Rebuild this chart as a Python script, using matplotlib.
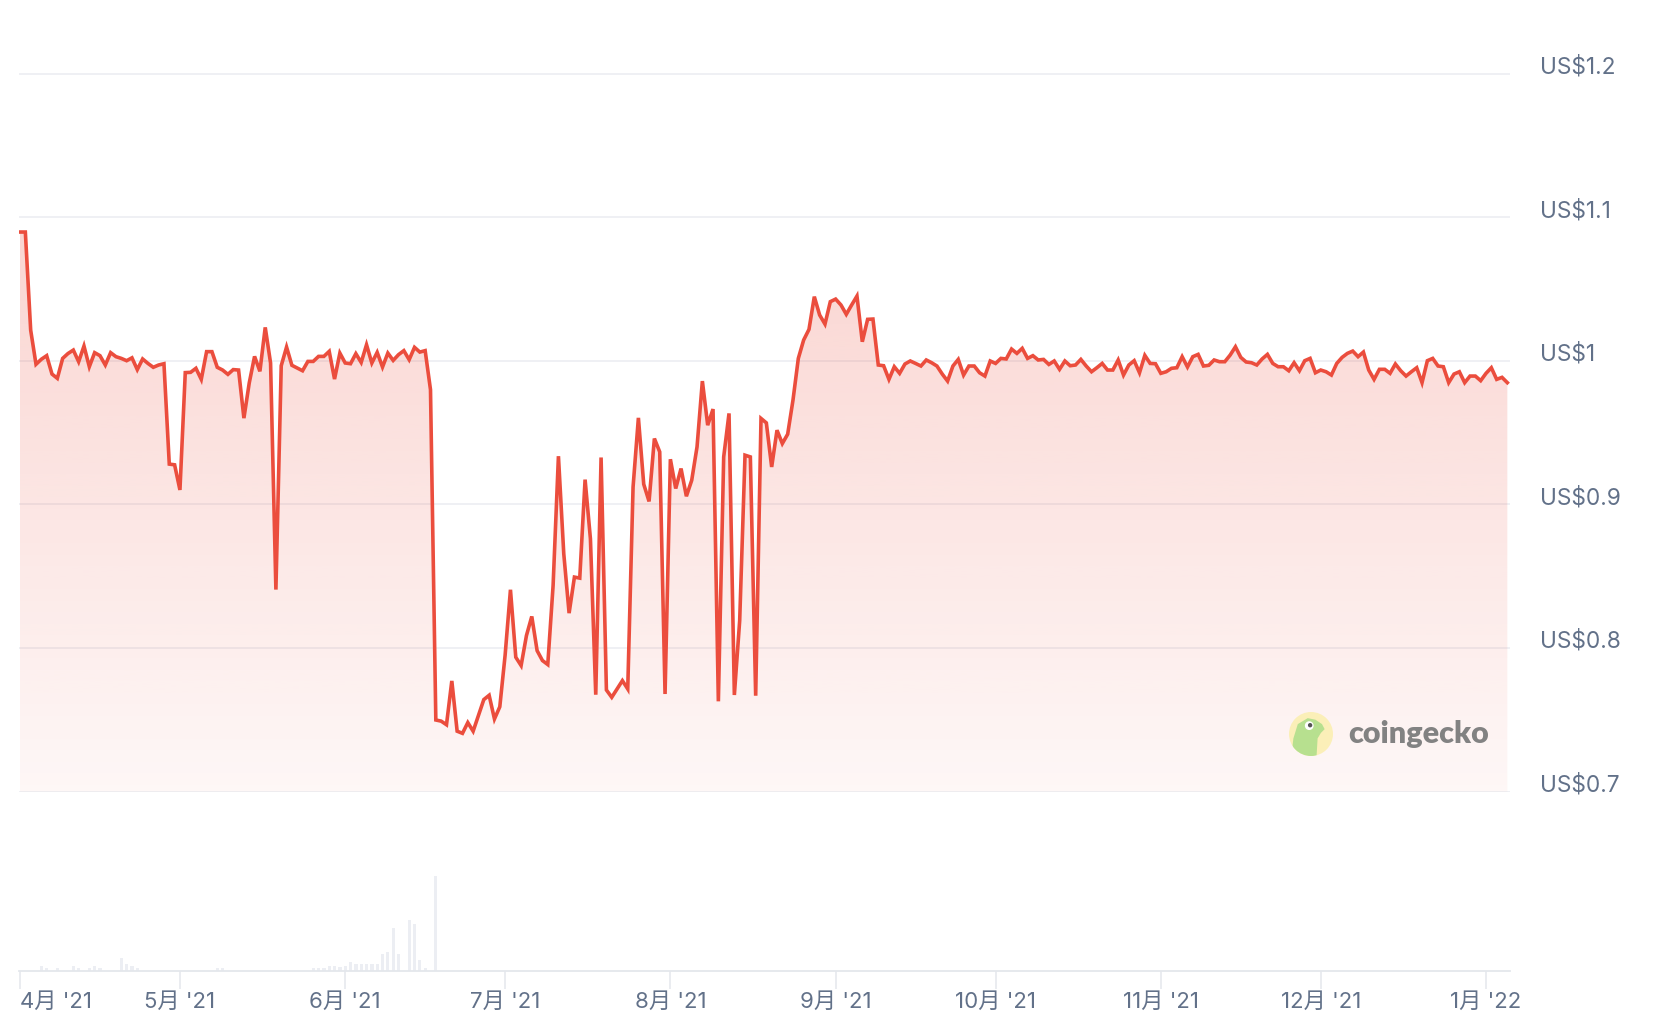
import numpy as np
import pandas as pd
import matplotlib
matplotlib.use("Agg")
import matplotlib.pyplot as plt
import matplotlib.dates as mdates
from matplotlib.patches import Circle, Polygon
from matplotlib.colors import LinearSegmentedColormap

# ---------------- data ----------------
start_date = "2021-04-01"

price = [
    1.0896, 1.0896, 1.0213, 0.9975, 1.0010, 1.0035, 0.9907, 0.9877, 1.0016, 1.0050,
    1.0074, 0.9993, 1.0102, 0.9958, 1.0056, 1.0035, 0.9970, 1.0056, 1.0028, 1.0016,
    1.0000, 1.0020, 0.9938, 1.0012, 0.9981, 0.9954, 0.9970, 0.9979, 0.9280, 0.9275,
    0.9100, 0.9917, 0.9919, 0.9947, 0.9870, 1.0063, 1.0063, 0.9954, 0.9935, 0.9905,
    0.9938, 0.9935,
    0.9600, 0.9845, 1.0030, 0.9926, 1.0232, 0.9984, 0.8406, 0.9965, 1.0095, 0.9968,
    0.9949, 0.9930, 0.9995, 0.9995, 1.0030, 1.0030, 1.0065, 0.9872, 1.0053, 0.9984,
    0.9979, 1.0049, 0.9988, 1.0111, 0.9984, 1.0058, 0.9956, 1.0053, 1.0002, 1.0042,
    1.0070, 1.0007, 1.0093, 1.0060, 1.0070, 0.9798,
    0.7498, 0.7490, 0.7465, 0.7770, 0.7420, 0.7405, 0.7480, 0.7420, 0.7530, 0.7640,
    0.7670, 0.7505, 0.7590, 0.7950, 0.8405, 0.7935, 0.7877, 0.8086, 0.8219, 0.7981,
    0.7912, 0.7884, 0.8435, 0.9335, 0.8656, 0.8242, 0.8493, 0.8486, 0.9172, 0.8760,
    0.7674, 0.9326, 0.7707, 0.7656,
    0.7714, 0.7772, 0.7714, 0.9120, 0.9602, 0.9140, 0.9020, 0.9458, 0.9365, 0.7679,
    0.9314, 0.9110, 0.9249, 0.9056, 0.9167, 0.9400, 0.9858, 0.9551, 0.9663, 0.7628,
    0.9330, 0.9633, 0.7672, 0.8190, 0.9342, 0.9330, 0.7667, 0.9598, 0.9567, 0.9260,
    0.9516, 0.9423, 0.9488, 0.9726,
    1.0016, 1.0144, 1.0218, 1.0446, 1.0318, 1.0255, 1.0411, 1.0429, 1.0388, 1.0323,
    1.0388, 1.0450, 1.0132, 1.0288, 1.0290, 0.9970, 0.9965, 0.9870, 0.9958, 0.9912,
    0.9977, 0.9998, 0.9981, 0.9963, 1.0005, 0.9986, 0.9963, 0.9907, 0.9858, 0.9963,
    1.0009, 0.9900, 0.9963, 0.9963, 0.9916, 0.9893, 0.9998, 0.9981, 1.0016, 1.0012,
    1.0081, 1.0051, 1.0086, 1.0016, 1.0035, 1.0005, 1.0009, 0.9974, 0.9998, 0.9940,
    0.9998, 0.9965, 0.9970, 1.0009, 0.9963, 0.9923, 0.9951, 0.9981, 0.9935, 0.9935,
    1.0005,
    0.9900, 0.9970, 1.0000, 0.9916, 1.0037, 0.9981, 0.9979, 0.9912, 0.9923, 0.9947,
    0.9951, 1.0028, 0.9956, 1.0028, 1.0044, 0.9963, 0.9968, 1.0005, 0.9993, 0.9993,
    1.0039, 1.0097, 1.0023, 0.9991, 0.9986, 0.9970, 1.0012, 1.0044, 0.9981, 0.9958,
    0.9958, 0.9930, 0.9986, 0.9930, 1.0000, 1.0016, 0.9916, 0.9935, 0.9923, 0.9900,
    0.9981, 1.0023, 1.0051, 1.0067, 1.0028, 1.0060, 0.9935, 0.9870, 0.9940, 0.9940,
    0.9912, 0.9977, 0.9930, 0.9893, 0.9923, 0.9951, 0.9847, 1.0000, 1.0016, 0.9963,
    0.9958, 0.9847, 0.9907, 0.9923, 0.9847, 0.9893, 0.9893, 0.9861, 0.9912, 0.9951,
    0.9870, 0.9884, 0.9847,
]

# trading volume (arbitrary units, millions) on the days it is visible
vol_day = [4, 5, 7, 10, 11, 13, 14, 15, 19, 20, 21, 22, 37, 38, 55, 56, 57, 58, 59,
           60, 61, 62, 63, 64, 65, 66, 67, 68, 69, 70, 71, 73, 74, 75, 76, 78]
vol_val = [0.47, 0.23, 0.23, 0.47, 0.23, 0.23, 0.47, 0.23, 1.30, 0.67, 0.47, 0.30,
           0.23, 0.23, 0.23, 0.23, 0.30, 0.47, 0.47, 0.37, 0.47, 0.83, 0.67, 0.67,
           0.67, 0.67, 0.67, 1.67, 1.87, 4.23, 1.67, 5.07, 4.67, 1.07, 0.27, 9.47]

month_ticks = ["2021-04-01", "2021-05-01", "2021-06-01", "2021-07-01", "2021-08-01",
               "2021-09-01", "2021-10-01", "2021-11-01", "2021-12-01", "2022-01-01"]
month_labels = ["4月 '21", "5月 '21", "6月 '21", "7月 '21", "8月 '21",
                "9月 '21", "10月 '21", "11月 '21", "12月 '21", "1月 '22"]

y_ticks = [0.7, 0.8, 0.9, 1.0, 1.1, 1.2]
y_labels = ["US$0.7", "US$0.8", "US$0.9", "US$1", "US$1.1", "US$1.2"]

# ---------------- style ----------------
plt.rcParams["font.family"] = ["Inter", "Noto Sans CJK SC", "DejaVu Sans"]
LINE = "#eb4d3d"
TEXT = "#627189"
GRID = "#eceef2"
BASE = "#e4e7ec"
VOL = "#eceef3"

W, H = 1658, 1036
fig = plt.figure(figsize=(W / 100, H / 100), dpi=100)

dates = pd.date_range(start_date, periods=len(price), freq="D")
xd = mdates.date2num(dates)
d0 = xd[0]
xlim = (d0 - 0.19, d0 + 279.5)

# ---------------- price panel ----------------
ax = fig.add_axes([19 / W, 1 - 791.5 / H, (1510 - 19) / W, (791.5 - 1.7) / H])
ax.set_facecolor("none")
for s in ax.spines.values():
    s.set_visible(False)
ax.grid(axis="y", color=GRID, lw=1.2, zorder=0)
ax.set_axisbelow(True)

poly = ax.fill_between(xd, price, 0.7, facecolor="none", edgecolor="none")
grad = np.linspace(0, 1, 256).reshape(-1, 1)
r, g, b = 235 / 255, 77 / 255, 61 / 255
cmap = LinearSegmentedColormap.from_list("g", [(r, g, b, 0.045), (r, g, b, 0.235)])
im = ax.imshow(grad, extent=[xd[0], xd[-1], 0.7, max(price)], origin="lower",
               aspect="auto", cmap=cmap, zorder=1, interpolation="bilinear")
im.set_clip_path(poly.get_paths()[0], transform=ax.transData)

ax.plot(xd, price, color=LINE, lw=2.6, solid_joinstyle="miter", zorder=3)

ax.set_xlim(*xlim)
ax.set_ylim(0.7, 1.25)
ax.set_xticks([])
ax.yaxis.tick_right()
ax.set_yticks(y_ticks, y_labels)
ax.tick_params(axis="y", length=0, pad=21.6, labelsize=16.3, labelcolor=TEXT)
for t in ax.get_yticklabels():
    t.set_verticalalignment("baseline")

# ---------------- volume panel ----------------
axv = fig.add_axes([19 / W, 1 - 970.7 / H, (1510 - 19) / W, 180.7 / H])
axv.set_facecolor("none")
axv.bar(xd[vol_day], vol_val, width=0.62, color=VOL, zorder=1)
axv.set_xlim(*xlim)
axv.set_ylim(0, 18.07)
for k, s in axv.spines.items():
    s.set_visible(k == "bottom")
axv.spines["bottom"].set_color(BASE)
axv.spines["bottom"].set_linewidth(1.3)
axv.set_yticks([])
axv.set_xticks(mdates.date2num(pd.to_datetime(month_ticks)), month_labels)
axv.tick_params(axis="x", length=13, width=1.1, color=BASE, pad=2,
                labelsize=16, labelcolor=TEXT)
axv.get_xticklabels()[0].set_horizontalalignment("left")

# ---------------- watermark ----------------
axl = fig.add_axes([(1311 - 22) / W, 1 - (734 + 22) / H, 44 / W, 44 / H])
axl.set_xlim(-1, 1)
axl.set_ylim(-1, 1)
axl.axis("off")
circ = Circle((0, 0), 1, facecolor="#fbefb8", edgecolor="none")
axl.add_patch(circ)
gecko = Polygon([(-0.15, 0.72), (0.2, 0.65), (0.5, 0.45), (0.62, 0.22), (0.45, 0.05),
                 (0.3, -0.2), (0.25, -1.05), (-0.9, -1.05), (-0.8, -0.2), (-0.6, 0.45)],
                facecolor="#b7e08f", edgecolor="none")
axl.add_patch(gecko)
gecko.set_clip_path(circ)
axl.add_patch(Circle((-0.08, 0.38), 0.2, facecolor="white", edgecolor="none"))
axl.add_patch(Circle((-0.04, 0.4), 0.1, facecolor="#555555", edgecolor="none"))

fig.text(1348 / W, 1 - 734 / H, "coingecko", fontsize=22, fontweight="heavy",
         family=["Lato", "DejaVu Sans"], color="#828282", va="center", ha="left")

fig.savefig("out.png", dpi=100)
